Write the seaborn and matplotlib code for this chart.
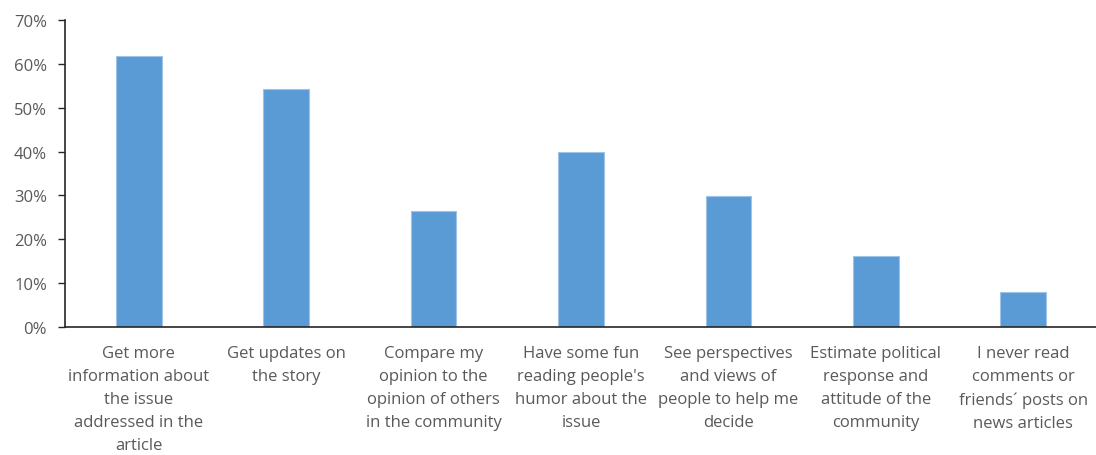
import matplotlib
matplotlib.use("Agg")
import matplotlib.pyplot as plt
import seaborn as sns
import pandas as pd
from matplotlib.ticker import PercentFormatter

categories = [
    "Get more\ninformation about\nthe issue\naddressed in the\narticle",
    "Get updates on\nthe story",
    "Compare my\nopinion to the\nopinion of others\nin the community",
    "Have some fun\nreading people's\nhumor about the\nissue",
    "See perspectives\nand views of\npeople to help me\ndecide",
    "Estimate political\nresponse and\nattitude of the\ncommunity",
    "I never read\ncomments or\nfriends\u00b4 posts on\nnews articles",
]
shares = [61.8, 54.3, 26.4, 40.0, 29.8, 16.3, 8.0]

df = pd.DataFrame({"reason": categories, "share": shares})

sns.set_theme(style="white")
plt.rcParams["font.family"] = ["Open Sans", "DejaVu Sans"]

fig = plt.figure(figsize=(10.96, 4.56), dpi=100)
ax = fig.add_axes([65 / 1096, 128 / 456, 1032 / 1096, (328 - 21) / 456])

sns.barplot(data=df, x="reason", y="share", color="#5B9BD5", width=0.31,
            edgecolor="#9DC3E6", linewidth=0.8, saturation=1, ax=ax)

ax.set_ylim(0, 70)
ax.set_yticks(range(0, 71, 10))
ax.yaxis.set_major_formatter(PercentFormatter(decimals=0))
ax.set_xlim(-0.5, len(categories) - 0.5)
ax.set_xlabel("")
ax.set_ylabel("")

for side in ("top", "right"):
    ax.spines[side].set_visible(False)
for side in ("left", "bottom"):
    ax.spines[side].set_color("#262626")
    ax.spines[side].set_linewidth(1.2)

ax.tick_params(axis="y", which="major", direction="out", length=5, width=1,
               color="#262626", labelsize=12, labelcolor="#595959", pad=8, left=True)
ax.tick_params(axis="x", length=0, labelsize=12, labelcolor="#595959", pad=13)
for lbl in ax.get_xticklabels():
    lbl.set_linespacing(1.58)
    lbl.set_verticalalignment("top")

fig.savefig("out.png", dpi=100, facecolor="white")
